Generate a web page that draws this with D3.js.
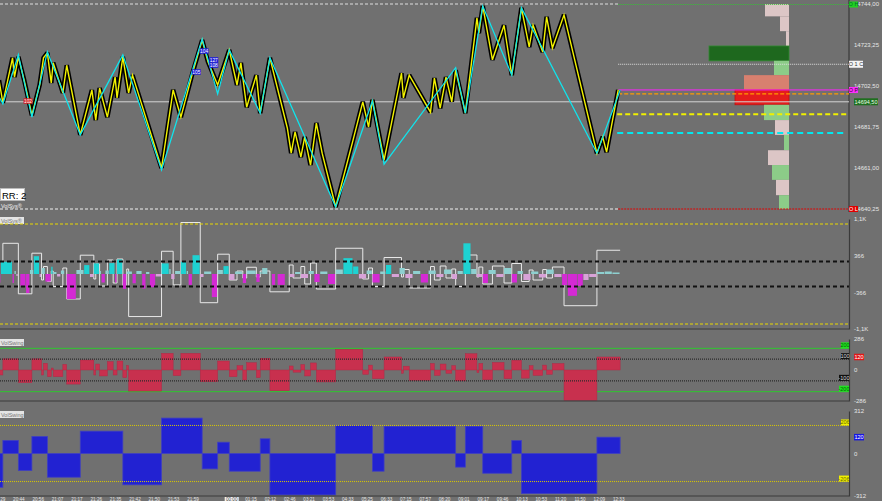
<!DOCTYPE html>
<html><head><meta charset="utf-8">
<script src="https://cdn.jsdelivr.net/npm/d3@7"></script>
<style>
html,body{margin:0;padding:0;background:#707070;overflow:hidden}
svg{display:block}
text{font-family:"Liberation Sans",Arial,sans-serif}
</style></head><body>
<svg id="c" width="882" height="501"></svg>
<script>
// ---------------- DATA ----------------
const timeBars  = [0,10,20,30,40,50,60,70,80,90,100,120,130,140,150,160,170,180,190,200,210,220,230,240,250,260,270,280,290,300,310,320];
const timeTexts = ["20:29","20:44","20:56","21:07","21:17","21:26","21:35","21:42","21:50","21:53","21:59","00:00","01:15","02:12","02:46","03:21","03:53","04:33","05:25","06:33","07:15","07:57","08:20","09:01","09:17","09:46","10:13","10:53","11:20","11:50","12:09","12:33"];

const priceTicks = [14744,14723.25,14702.5,14681.75,14661,14640.25];

// minor swing pivots [bar, price]
const yellowPivots = [[0,14705.5],[2,14694],[7,14716.75],[8,14707],[10,14717.25],[13,14705.5],[17,14687.75],[21,14703],[23,14716.75],[25,14719.25],[27,14704],[28,14714.25],[33,14699],[35,14713],[42,14677.75],[48,14700.5],[50,14685.25],[52,14701.5],[56,14686.75],[60,14707],[61,14696.5],[64,14717.25],[67,14699],[69,14708],[84,14661],[90,14700.5],[94,14686.75],[100,14709],[105,14725.75],[108,14714.75],[113,14703],[119,14720.75],[123,14703],[125,14714.25],[128,14691.75],[133,14708],[135,14688.75],[140,14716.75],[149,14681.25],[151,14668.5],[153,14679.25],[156,14666.5],[158,14676.75],[161,14662.5],[164,14683.75],[167,14668.5],[174,14641.25],[183,14675.25],[188,14694.5],[191,14681.75],[193,14695.5],[199,14665],[208,14709],[209,14696.5],[212,14708],[223,14689.25],[225,14706.5],[228,14691.25],[231,14707],[234,14694.5],[236,14710.5],[241,14688.75],[247,14737],[248,14729.25],[250,14743],[255,14715.75],[261,14733.25],[265,14708],[270,14742],[274,14722.25],[276,14733.25],[281,14719.75],[283,14737.5],[286,14721.75],[292,14738.5],[309,14668.5],[312,14676.75],[314,14669],[320,14700.5]];

// major swing pivots [bar, price]
const cyanPivots = [[0,14697],[2,14693.5],[10,14718.25],[17,14686.75],[25,14719.75],[42,14677.75],[64,14718.25],[84,14660],[105,14726.25],[113,14698.5],[119,14720.75],[135,14688.75],[140,14716.75],[174,14641.25],[193,14695],[199,14663],[236,14711.75],[241,14688.75],[250,14743],[265,14708],[270,14742],[309,14668.5],[321,14700.5]];

// swing labels [bar, price, text, colour]
const swingTags = [[15,14694.9,"102","#d42020"],[102,14709.6,"105","#2020d8"],[106,14720.2,"104","#2020d8"],[111,14715.7,"127","#2020d8"],[111,14713.1,"108","#2020d8"]];

// price levels
const sessHigh = 14744, sessLow = 14640.25, sessOpen = 14700.5, orangeLvl = 14698.5,
      yellowLvl = 14688.25, cyanLvl = 14678.75, dottedLvl = 14713.5, lastPrice = 14694.5;

// volume profile rows
const profLow  = [14737.75,14730.25,14722.75,14715.25,14708,14700.5,14693,14685.25,14677.75,14670,14662.5,14655,14647.25,14640.25];
const profHigh = [14744,14737.75,14730.25,14722.75,14715.25,14708,14700.5,14693,14685.25,14677.75,14670,14662.5,14655,14647.25];
const profVol  = [480,180,60,1600,300,900,1080,500,280,100,420,340,260,200];
const profKind = ["pk","pk","pk","dg","lg","sa","poc","lg","pk","lg","pk","lg","pk","lg"];

// delta histogram [startBar, endBar, value]
const volHist = [[0,1,-172],[1,7,244],[7,8,-180],[8,9,60],[9,10,-40],[11,14,-238],[14,16,-382],[16,18,80],[18,21,356],[21,22,-60],[22,24,119],[24,27,-152],[27,28,145],[28,30,40],[30,32,-50],[32,34,70],[35,40,-501],[40,44,80],[44,47,178],[47,49,-60],[49,52,212],[52,53,60],[53,55,-170],[55,57,70],[57,60,218],[60,61,-172],[61,64,291],[64,66,-297],[66,69,50],[69,71,-185],[71,74,60],[74,76,-291],[76,78,40],[78,81,-263],[81,84,-50],[84,88,212],[88,89,100],[89,91,-100],[91,94,60],[94,97,244],[97,98,60],[98,100,-218],[100,104,376],[104,106,-60],[106,110,50],[110,113,-461],[113,116,80],[116,119,158],[119,122,-119],[122,126,50],[126,128,-180],[128,133,70],[133,135,-158],[135,136,40],[136,139,119],[141,143,-218],[144,148,-218],[150,153,-60],[153,156,40],[156,160,-80],[160,163,60],[163,166,-160],[166,170,50],[170,174,-200],[174,178,90],[178,183,317],[183,186,150],[186,190,-90],[190,193,70],[193,197,-170],[197,200,50],[200,203,180],[203,207,-60],[207,210,120],[210,214,-80],[214,218,60],[218,222,-170],[222,226,70],[226,230,-60],[230,234,90],[234,237,-100],[237,240,60],[240,244,614],[244,247,100],[247,250,-60],[250,253,-180],[253,257,80],[257,261,-60],[261,265,120],[265,268,-170],[268,271,60],[271,275,-120],[275,279,50],[279,283,-70],[283,287,90],[287,291,-60],[291,294,-220],[294,299,-436],[299,302,-240],[302,305,-120],[305,309,-60],[309,313,40],[313,317,50],[317,321,30]];

// intermediate swings
const midBounds = [0,2,10,17,22,23,25,27,28,33,35,42,49,50,52,56,59,61,64,66,67,84,90,94,104,113,119,123,126,128,133,135,140,150,152,156,158,161,164,174,188,191,193,199,208,209,212,223,225,228,231,234,236,241,247,248,250,255,261,265,270,274,276,281,283,286,292,309,321];
const redSwing = [-46,103,-117,103,-46,62,-62,18,-62,52,-130,92,-46,55,-55,77,-46,83,-71,40,-194,154,-52,154,-108,83,-62,40,-92,67,-71,108,-191,37,-20,50,-55,65,-110,190,-40,45,-80,120,-30,35,-95,60,-50,55,-30,40,-100,150,-25,60,-90,70,-80,90,-75,40,-50,45,-40,60,-280,120];
const boxSwing = [0,614,-396,416,-120,150,-150,60,-250,120,-500,376,-100,200,-240,280,-180,300,-260,100,-851,455,-218,1030,-574,396,-120,60,-80,135,-60,60,-356,180,-80,150,-200,220,-300,515,-100,120,-250,330,-60,90,-280,150,-120,160,-80,100,-250,380,-60,140,-200,160,-180,210,-150,80,-120,90,-80,140,-634,475];

// major swings
const majBounds = [0,2,10,17,25,42,64,84,105,113,119,135,140,174,193,199,236,241,250,265,270,309,321];
const blueSwing = [-248,96,-125,125,-174,164,-230,260,-113,83,-130,108,-304,206,-130,200,-100,200,-145,95,-294,120];

const volTicks = [1100,366,-366,-1100], volTickText = ["1,1K","366","-366","-1,1K"];
const volOuter = 1000, volInner = 250;
const redTicks = [286,0,-286], redOuter = 200, redInner = 100;
const blueTicks = [312,0,-312], blueBand = 206;

// ---------------- DRAW ----------------
const svg = d3.select("#c");
const AX = 849;
const x  = d3.scaleLinear().domain([0,320]).range([-1,618.2]);
const yP = d3.scaleLinear().domain([14640.25,14744]).range([209,4]);
const yV = d3.scaleLinear().domain([-1100,1100]).range([329,219]);
const yR = d3.scaleLinear().domain([-286,286]).range([401,339]);
const yB = d3.scaleLinear().domain([-312,312]).range([496,411]);
const xVol = d3.scaleLinear().domain([0,1600]).range([789,709]);
const xEnd = x(320);
const txtCol = "#e6e6e6";

function hline(y, x1, x2, col, w, dash){
  svg.append("line").attr("x1",x1).attr("x2",x2).attr("y1",y).attr("y2",y)
    .attr("stroke",col).attr("stroke-width",w).attr("stroke-dasharray",dash||null);
}
function tag(xl, yc, w, h, fill, col, txt, fs){
  svg.append("rect").attr("x",xl).attr("y",yc-h/2).attr("width",w).attr("height",h).attr("fill",fill);
  svg.append("text").attr("x",xl+w/2).attr("y",yc).attr("dy","0.36em").attr("text-anchor","middle")
    .attr("font-size",fs||5.5).attr("fill",col).text(txt);
}
function rightAxis(scale, ticks, fmt){
  const g = svg.append("g").attr("transform",`translate(${AX},0)`)
    .call(d3.axisRight(scale).tickValues(ticks).tickFormat(fmt).tickSize(0).tickSizeOuter(0).tickPadding(5));
  g.select(".domain").attr("stroke","#3a3a3a").attr("stroke-width",1.2);
  g.selectAll("text").attr("fill",txtCol).attr("font-size",6).attr("font-family","Liberation Sans, Arial");
  return g;
}
function panelLabel(y, txt){
  svg.append("rect").attr("x",0).attr("y",y).attr("width",24).attr("height",7).attr("fill","#e4e4e4");
  svg.append("text").attr("x",1).attr("y",y+5.6).attr("font-size",5.5).attr("fill","#777").text(txt);
}

// ---- Price panel ----
const profCol = {pk:"#dcc6c6", lg:"#8ccc88", dg:"#1e681e", sa:"#d8806f", poc:"#e41c1c"};
profVol.forEach((v,i)=>{
  svg.append("rect").attr("x",xVol(v)).attr("y",yP(profHigh[i])).attr("width",xVol(0)-xVol(v))
    .attr("height",yP(profLow[i])-yP(profHigh[i])).attr("fill",profCol[profKind[i]])
    .attr("stroke", profKind[i]==="dg" ? "#2f8a2f" : (profKind[i]==="poc" ? "#c01010" : "none")).attr("stroke-width",0.8);
});

// price axis labels (under the tags)
rightAxis(yP, priceTicks, d=>d3.format(".2f")(d).replace(".",",")).select(".domain").remove();
svg.append("line").attr("x1",AX).attr("x2",AX).attr("y1",0).attr("y2",212).attr("stroke","#3a3a3a").attr("stroke-width",1.2);

hline(yP(sessHigh), 0, xEnd, "#dedede", 1, "3,2");
hline(yP(sessHigh)+0.5, xEnd, AX, "#38c038", 1, "1,1");
hline(yP(sessLow), 0, xEnd, "#f0f0f0", 1, "3,2");
hline(yP(sessLow), xEnd, AX, "#e00000", 1.2, "2,1");
hline(yP(lastPrice), 0, AX, "#d4d4d4", 1);
hline(yP(dottedLvl), xEnd, AX, "#e0e0e0", 1, "1,1");
hline(yP(sessOpen), xEnd, AX, "#ff20ff", 1);
hline(yP(orangeLvl), xEnd, AX, "#ff9a00", 1.3, "4,2");
hline(yP(yellowLvl), xEnd-1, AX, "#f0f000", 2, "5,3");
hline(yP(cyanLvl), xEnd-1, AX-3, "#00e8f0", 2, "6,4");

const line = d3.line().x(d=>x(d[0])).y(d=>yP(d[1]));
svg.append("path").datum(yellowPivots).attr("d",line).attr("fill","none")
  .attr("stroke","#000").attr("stroke-width",4.6).attr("stroke-linejoin","miter").attr("stroke-miterlimit",2);
svg.append("path").datum(yellowPivots).attr("d",line).attr("fill","none")
  .attr("stroke","#f4f400").attr("stroke-width",1.4);
svg.append("path").datum(cyanPivots).attr("d",line).attr("fill","none")
  .attr("stroke","#10e4ec").attr("stroke-width",1.3);

swingTags.forEach(t=>{
  tag(x(t[0])-4.5, yP(t[1]), 9, 5.5, t[3], "#fff", t[2], 4.8);
});

svg.append("rect").attr("x",0.5).attr("y",188.5).attr("width",24).attr("height",12).attr("fill","#fff").attr("stroke","#bbb");
svg.append("text").attr("x",2).attr("y",198.5).attr("font-size",9.5).attr("fill","#000").text("RR: 2");
svg.append("text").attr("x",1).attr("y",208).attr("font-size",5.5).attr("fill","#eee").text("VolSys®");

tag(AX, yP(sessHigh)+0.5, 9, 6, "#20d020", "#063", "O H");
tag(AX, yP(dottedLvl), 14, 7, "#f4f4f4", "#333", "O 1 C");
tag(AX, yP(sessOpen), 9, 6, "#ff30ff", "#303", "O P");
tag(AX+5, yP(lastPrice), 24, 7, "#1e6e1e", "#e8ffe8", d3.format(".2f")(lastPrice).replace(".",","));
tag(AX, yP(sessLow), 9, 6, "#e00000", "#fff", "O L");

// ---- Panel 2: delta histogram ----
panelLabel(217, "VolSys®");
for(let i=0;i<boxSwing.length;i++){
  const v = boxSwing[i]; if(!v) continue;
  const x0 = x(midBounds[i]), x1 = x(midBounds[i+1]), y0 = yV(0), y1 = yV(v);
  const last = i===boxSwing.length-1;
  svg.append("path").attr("d", last ? `M${x0},${y0}V${y1}H${x1}` : `M${x0},${y0}V${y1}H${x1}V${y0}`)
    .attr("fill","none").attr("stroke","#e8e8e8").attr("stroke-width",1);
}
volHist.forEach(d=>{
  const big = Math.abs(d[2])>=140;
  const col = d[2]>0 ? (big?"#1ed2d2":"#8ed0d0") : (big?"#d42ad4":"#d8a2d8");
  svg.append("rect").attr("x",x(d[0])).attr("width",Math.max(1,x(d[1])-x(d[0])-0.6))
    .attr("y",Math.min(yV(d[2]),yV(0))).attr("height",Math.abs(yV(d[2])-yV(0))).attr("fill",col);
});
hline(yV(volOuter), 0, AX, "#e8d800", 1, "3,2");
hline(yV(-volOuter), 0, AX, "#e8d800", 1, "3,2");
hline(yV(volInner), 0, AX, "#111", 1.8, "4,3");
hline(yV(-volInner), 0, AX, "#111", 1.8, "4,3");
hline(329, 0, AX, "#3a3a3a", 1.2);
rightAxis(yV, volTicks, (d,i)=>volTickText[i]);

// ---- Panel 3: red swing volume ----
hline(yR(redOuter), 0, AX, "#2ec82e", 1);
hline(yR(-redOuter), 0, AX, "#2ec82e", 1);
for(let i=0;i<redSwing.length;i++){
  const v = redSwing[i];
  svg.append("rect").attr("x",x(midBounds[i])).attr("width",x(midBounds[i+1])-x(midBounds[i]))
    .attr("y",Math.min(yR(v),yR(0))).attr("height",Math.abs(yR(v)-yR(0)))
    .attr("fill","#c8304e").attr("stroke","#b02a46").attr("stroke-width",0.5);
}
hline(yR(redInner), 0, AX, "#2a2a2a", 1.3, "1,1");
hline(yR(-redInner), 0, AX, "#2a2a2a", 1.3, "1,1");
hline(401, 0, AX, "#3a3a3a", 1.2);
panelLabel(339, "VolSwing");
rightAxis(yR, redTicks, d=>d);
tag(AX-8, yR(redOuter)-3, 8, 6, "#22e022", "#060", redOuter);
tag(AX-8, yR(redInner)-3, 8, 6, "#101010", "#ddd", redInner);
tag(AX-10, yR(-redInner)-3, 10, 6, "#101010", "#ddd", -redInner);
tag(AX-10, yR(-redOuter)-3, 10, 6, "#22e022", "#060", -redOuter);
tag(AX+5, yR(redSwing[redSwing.length-1]), 10, 6.5, "#e01818", "#fff", redSwing[redSwing.length-1]);

// ---- Panel 4: blue swing volume ----
for(let i=0;i<blueSwing.length;i++){
  const v = blueSwing[i];
  svg.append("rect").attr("x",x(majBounds[i])).attr("width",x(majBounds[i+1])-x(majBounds[i]))
    .attr("y",Math.min(yB(v),yB(0))).attr("height",Math.abs(yB(v)-yB(0)))
    .attr("fill","#2222d2").attr("stroke","#4040c0").attr("stroke-width",0.8);
}
hline(yB(blueBand), 0, AX, "#d8c800", 1, "1,1");
hline(yB(-blueBand), 0, AX, "#d8c800", 1, "1,1");
hline(496, 0, AX, "#3a3a3a", 1.2);
panelLabel(411, "VolSwing");
rightAxis(yB, blueTicks, d=>d);
tag(AX-8, yB(blueBand)-3, 8, 6, "#f0f000", "#660", blueBand);
tag(AX-10, yB(-blueBand)-3, 10, 6, "#f0f000", "#660", -blueBand);
tag(AX+5, yB(blueSwing[blueSwing.length-1]), 10, 6.5, "#1818e0", "#fff", blueSwing[blueSwing.length-1]);

// ---- time axis ----
const ta = svg.append("g").attr("transform","translate(0,496)")
  .call(d3.axisBottom(x).tickValues(timeBars).tickFormat((d,i)=>timeTexts[i]).tickSize(0).tickPadding(0));
ta.select(".domain").remove();
ta.selectAll("text").attr("fill",txtCol).attr("font-size",4.6).attr("dy",null).attr("y",4.7);
ta.selectAll(".tick").filter(d=>d===120).insert("rect","text")
  .attr("x",-7).attr("y",1).attr("width",14).attr("height",4.5).attr("fill","#f4f4f4");
ta.selectAll(".tick").filter(d=>d===120).select("text").attr("fill","#444");
</script>
</body></html>
